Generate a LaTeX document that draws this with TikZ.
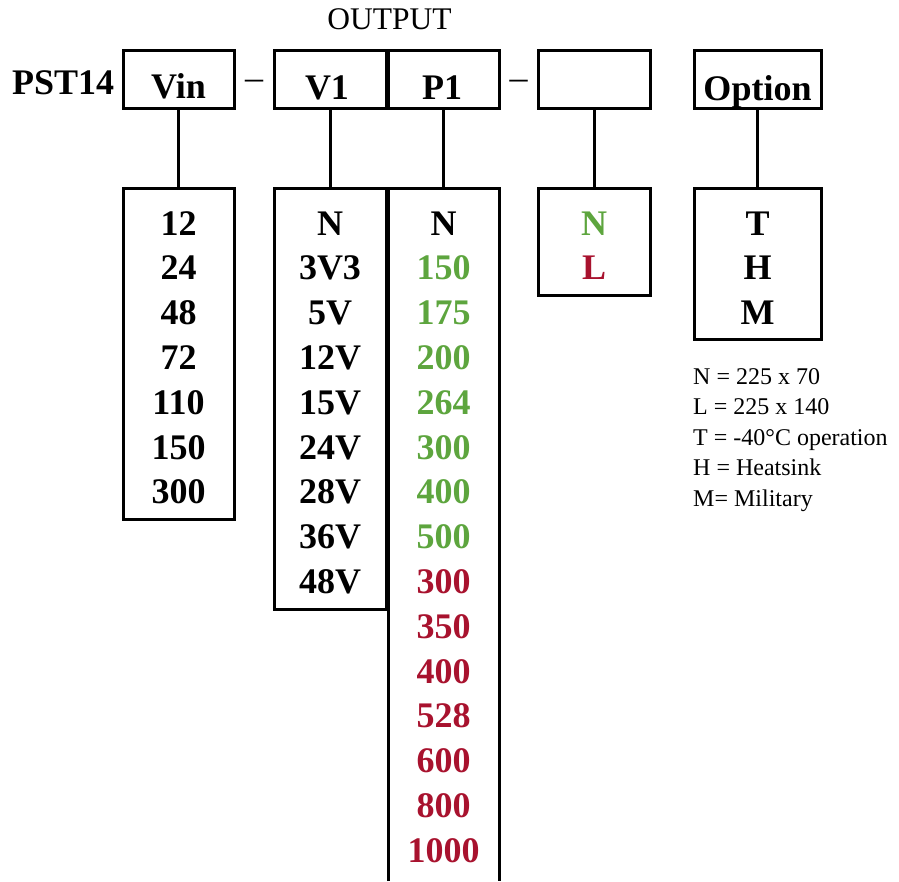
\documentclass[tikz,border=0pt]{standalone}
\usepackage{fontspec}
\setmainfont{Liberation Serif}
\definecolor{pgreen}{RGB}{93,165,62}
\definecolor{pred}{RGB}{168,18,46}
\begin{document}
\begin{tikzpicture}[x=1pt,y=-1pt,
  box/.style={draw,line width=3pt,inner sep=0pt,outer sep=0pt,anchor=north west},
  hbox/.style={inner sep=0pt,outer sep=0pt,anchor=north west},
  big/.style={font=\fontsize{36}{40}\selectfont\bfseries,anchor=base,inner sep=0pt},
  conn/.style={line width=3pt},
  note/.style={font=\fontsize{24}{30}\selectfont,anchor=base west,inner sep=0pt}]
\useasboundingbox (0,0) rectangle (899,881);

% top boxes
\node[box,minimum width=111pt,minimum height=58pt] (vin) at (123,50) {};
\node[box,minimum width=112pt,minimum height=58pt] (v1) at (274,50) {};
\node[box,minimum width=111pt,minimum height=58pt] (p1) at (388,50) {};
\node[box,minimum width=112pt,minimum height=58pt] (sz) at (538,50) {};
\node[box,minimum width=127pt,minimum height=58pt] (opt) at (694,50) {};

% titles
\node[big,anchor=base west] (pst) at (12,94) {PST14};
\node[font=\fontsize{31.5}{36}\selectfont,anchor=base,inner sep=0pt] (out) at (389.5,29.3) {OUTPUT};
\node[big] (vint) at (178.5,98.5) {Vin};
\node[big] (v1t) at (327,99.5) {V1};
\node[big] (p1t) at (442,99.5) {P1};
\node[big] (optt) at (757.5,100) {Option};
\node[font=\fontsize{36}{40}\selectfont,anchor=base,inner sep=0pt] (d1) at (254,89) {–};
\node[font=\fontsize{36}{40}\selectfont,anchor=base,inner sep=0pt] (d2) at (518.5,89) {–};

% lower boxes
\node[box,minimum width=111pt,minimum height=331pt] (vinl) at (123,188) {};
\node[box,minimum width=112pt,minimum height=421pt] (v1l) at (274,188) {};
\node[hbox,minimum width=111pt,minimum height=693pt] (p1l) at (388,188) {};
\draw[line width=3pt] (p1l.south west) -- (p1l.north west) -- (p1l.north east) -- (p1l.south east);
\node[box,minimum width=112pt,minimum height=107pt] (szl) at (538,188) {};
\node[box,minimum width=127pt,minimum height=151pt] (optl) at (694,188) {};

% connectors
\draw[conn] (vin.south) -- (vinl.north);
\draw[conn] (v1.south) -- (v1l.north);
\draw[conn] (p1.south) -- (p1l.north);
\draw[conn] (sz.south) -- (szl.north);
\draw[conn] (opt.south) -- (optl.north);

% lists
\foreach \t [count=\i] in {12,24,48,72,110,150,300}
  \node[big] (vinl-\i) at (178.5,{235+44.8*(\i-1)}) {\t};
\foreach \t [count=\i] in {N,3V3,5V,12V,15V,24V,28V,36V,48V}
  \node[big] (v1l-\i) at (330,{235+44.8*(\i-1)}) {\t};
\foreach \t/\c [count=\i] in {N/black,150/pgreen,175/pgreen,200/pgreen,264/pgreen,300/pgreen,400/pgreen,500/pgreen,300/pred,350/pred,400/pred,528/pred,600/pred,800/pred,1000/pred}
  \node[big,text=\c] (p1l-\i) at (443.5,{235+44.8*(\i-1)}) {\t};
\foreach \t/\c [count=\i] in {N/pgreen,L/pred}
  \node[big,text=\c] (szl-\i) at (594,{235+44.8*(\i-1)}) {\t};
\foreach \t [count=\i] in {T,H,M}
  \node[big] (optl-\i) at (757.5,{235+44.8*(\i-1)}) {\t};

% legend
\foreach \t [count=\i] in {N = 225 x 70,L = 225 x 140,T = -40°C operation,H = Heatsink,M= Military}
  \node[note] (leg-\i) at (693,{384+30.5*(\i-1)}) {\t};
\end{tikzpicture}
\end{document}
